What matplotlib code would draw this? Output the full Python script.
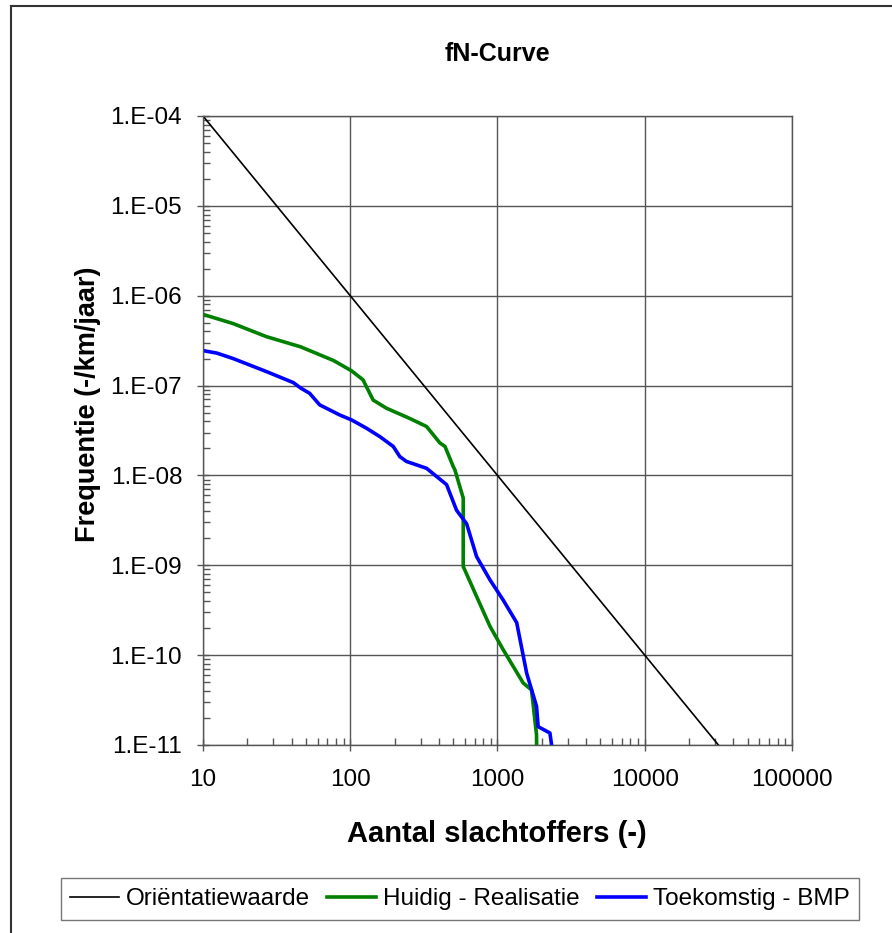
import numpy as np
import matplotlib
matplotlib.use("Agg")
import matplotlib.pyplot as plt
from matplotlib.lines import Line2D
from matplotlib.ticker import FixedLocator, LogLocator, NullFormatter, FuncFormatter

plt.rcParams['font.family'] = ['Liberation Sans', 'DejaVu Sans']

# Orientatiewaarde: f = 1e-2 / N^2
N_orient = [10, 100000]
f_orient = [1e-4, 1e-12]

# Huidig - Realisatie
N_huidig = [10, 16, 27, 46, 77, 102, 122, 143, 176, 254, 330, 406, 440, 500, 514,
            585, 585, 721, 888, 1093, 1494, 1702, 1841, 1850]
f_huidig = [6.2e-7, 4.9e-7, 3.5e-7, 2.7e-7, 1.9e-7, 1.46e-7, 1.16e-7, 6.9e-8, 5.6e-8,
            4.3e-8, 3.5e-8, 2.3e-8, 2.1e-8, 1.26e-8, 1.15e-8, 5.6e-9, 9.7e-10, 4.5e-10,
            2.1e-10, 1.15e-10, 4.9e-11, 4.1e-11, 1.3e-11, 5e-12]

# Toekomstig - BMP
N_toekomst = [10, 12.4, 16, 27, 41, 46, 53, 62, 85, 102, 129, 159, 196, 217, 241, 330,
              451, 527, 617, 721, 888, 1093, 1350, 1578, 1841, 1888, 2270, 2330]
f_toekomst = [2.45e-7, 2.3e-7, 2.0e-7, 1.43e-7, 1.08e-7, 9.4e-8, 8.2e-8, 6.1e-8, 4.7e-8,
              4.15e-8, 3.35e-8, 2.7e-8, 2.1e-8, 1.62e-8, 1.43e-8, 1.2e-8, 7.9e-9, 4.1e-9,
              2.9e-9, 1.25e-9, 6.9e-10, 4.1e-10, 2.3e-10, 6.3e-11, 2.7e-11, 1.6e-11,
              1.36e-11, 1e-11]

x_ticks = [10, 100, 1000, 10000, 100000]
y_ticks = [1e-11, 1e-10, 1e-9, 1e-8, 1e-7, 1e-6, 1e-5, 1e-4]

fig = plt.figure(figsize=(8.92, 9.33), dpi=100)
ax = fig.add_axes([203/892, 1-745/933, (792-203)/892, (745-116)/933])

ax.plot(N_orient, f_orient, color='black', lw=1.2, label='Oriëntatiewaarde')
ax.plot(N_huidig, f_huidig, color='#008000', lw=2.6, label='Huidig - Realisatie')
ax.plot(N_toekomst, f_toekomst, color='#0000ff', lw=2.6, label='Toekomstig - BMP')

ax.set_xscale('log')
ax.set_yscale('log')
ax.set_xlim(10, 100000)
ax.set_ylim(1e-11, 1e-4)

ax.xaxis.set_major_locator(FixedLocator(x_ticks))
ax.yaxis.set_major_locator(FixedLocator(y_ticks))
ax.xaxis.set_minor_locator(LogLocator(base=10, subs=np.arange(2, 10)))
ax.yaxis.set_minor_locator(LogLocator(base=10, subs=np.arange(2, 10)))
ax.xaxis.set_minor_formatter(NullFormatter())
ax.yaxis.set_minor_formatter(NullFormatter())
ax.xaxis.set_major_formatter(FuncFormatter(lambda v, p: '%d' % round(v)))
ax.yaxis.set_major_formatter(FuncFormatter(lambda v, p: '1.E-%02d' % round(-np.log10(v))))

ax.tick_params(which='major', direction='inout', length=8, width=1, color='#555555',
               labelsize=17.5)
ax.tick_params(which='minor', direction='in', length=5, width=1, color='#555555')
ax.tick_params(axis='y', which='major', pad=11)
ax.tick_params(axis='x', which='major', pad=13)

ax.grid(True, which='major', color='#555555', lw=1)
for s in ax.spines.values():
    s.set_color('#555555')
    s.set_linewidth(1)

fig.text(497/892, 1-54/933, 'fN-Curve', ha='center', va='center', fontsize=18, fontweight='bold')
fig.text(497/892, 1-834/933, 'Aantal slachtoffers (-)', ha='center', va='center',
         fontsize=21, fontweight='bold')
fig.text(88/892, 1-404/933, 'Frequentie (-/km/jaar)', ha='center', va='center',
         rotation=90, fontsize=19.5, fontweight='bold')

leg = fig.legend(loc='center', bbox_to_anchor=(460/892, 1-899/933), ncol=3,
                 fontsize=17.5, frameon=True, fancybox=False, edgecolor='#555555',
                 handlelength=2.0, handletextpad=0.3, columnspacing=0.7,
                 borderpad=0.4, borderaxespad=0)
leg.get_frame().set_linewidth(1)

# outer chart border (left and top edges visible)
fig.add_artist(Line2D([11/892, 11/892], [0, 1-6/933], color='#333333', lw=1.5))
fig.add_artist(Line2D([11/892, 1], [1-6/933, 1-6/933], color='#333333', lw=1.5))

fig.savefig('out.png', dpi=100)
